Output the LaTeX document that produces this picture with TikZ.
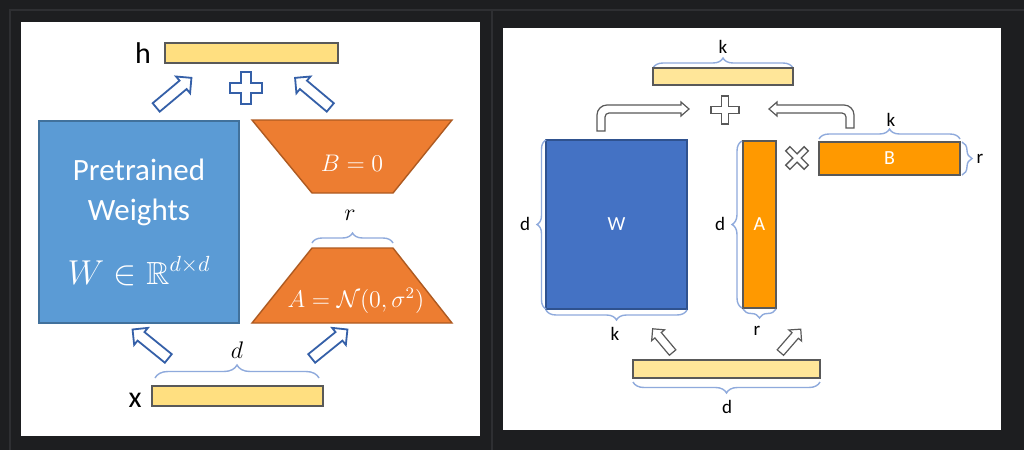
\documentclass[tikz,border=0pt]{standalone}
\usepackage{amsmath,amssymb}
\usepackage{fontspec}
\setmainfont{Carlito}
\usetikzlibrary{arrows.meta, positioning, calc, shapes.arrows, decorations.pathreplacing}
\definecolor{pagedark}{HTML}{1D1E20}
\definecolor{pageframe}{HTML}{2E2F32}
\definecolor{wblue}{HTML}{5B9BD5}
\definecolor{wblueline}{HTML}{41719C}
\definecolor{lorange}{HTML}{ED7D31}
\definecolor{lorangeline}{HTML}{AE5A21}
\definecolor{vecyellow}{HTML}{FFDF80}
\definecolor{vecyellowlt}{HTML}{FFE699}
\definecolor{vecline}{HTML}{595959}
\definecolor{mblue}{HTML}{4472C4}
\definecolor{mblueline}{HTML}{2F528F}
\definecolor{morange}{HTML}{FF9900}
\definecolor{braceblue}{HTML}{8FAADC}
\definecolor{arrowblue}{HTML}{3560A8}
\definecolor{arrowgray}{HTML}{595959}
\newcommand{\blockbox}[7]{%
  \node[#6, inner sep=0pt, minimum width=#4pt, minimum height=#5pt] (#1) at (#2,#3) {#7};}
\newcommand{\hollowarrow}[5]{%
  \node[#5, rotate=#4] (#1) at (#2,#3) {};}
\newcommand{\plusmark}[5]{%
  \draw[shift={(#1,#2)}, #5] (-#4,-#3) -- (#4,-#3) -- (#4,-#4) -- (#3,-#4) -- (#3,#4)
    -- (#4,#4) -- (#4,#3) -- (-#4,#3) -- (-#4,#4) -- (-#3,#4) -- (-#3,-#4) -- (-#4,-#4) -- cycle;}

\begin{document}
\begin{tikzpicture}[x=0.5pt, y=-0.5pt,
    vecbar/.style={draw=vecline, line width=0.7pt},
    bigarrow/.style={single arrow, draw=arrowblue, fill=white, line width=0.9pt,
      inner xsep=0pt, inner ysep=2.3pt, single arrow head extend=2.7pt,
      single arrow tip angle=90, minimum height=23pt, anchor=tail},
    smallarrow/.style={single arrow, draw=arrowgray, fill=white, line width=0.6pt,
      inner xsep=0pt, inner ysep=1.8pt, single arrow head extend=2.1pt,
      single arrow tip angle=90, minimum height=15.5pt, anchor=tail},
    bracemark/.style={decorate, decoration={brace, amplitude=#1}, draw=braceblue, line width=0.7pt},
    biglabel/.style={font=\fontsize{15}{18}\selectfont, anchor=base, inner sep=0pt},
    mathlabel/.style={font=\fontsize{12}{14}\selectfont, anchor=base, inner sep=0pt},
    smalllabel/.style={font=\fontsize{9.5}{11}\selectfont, anchor=base, inner sep=0pt},
    whitetext/.style={text=white, inner sep=0pt}]
  \useasboundingbox[fill=pagedark] (0,0) rectangle (1024,450);
  \draw[pageframe, line width=0.8pt] (10,460) -- (10,10) -- (492,10) -- (492,460);
  \draw[pageframe, line width=0.8pt] (492,10) -- (1030,10);
  \fill[white] (21,22) rectangle (480,436);
  \fill[white] (503,28) rectangle (1001,430);
  % left panel
  \blockbox{hvec}{251.5}{53}{86.5}{10}{vecbar, fill=vecyellow}{}
  \node[biglabel] (hlabel) at (143,63) {h};
  \plusmark{246}{88}{16}{5}{draw=arrowblue, line width=0.9pt}
  \hollowarrow{upleftw}{155.5}{108}{40}{bigarrow}
  \hollowarrow{uprightb}{331}{108}{140}{bigarrow}
  \blockbox{pretrained}{139}{222}{100}{101}{draw=wblueline, fill=wblue, line width=0.7pt}{}
  \node[whitetext, anchor=base, font=\fontsize{15.5}{18}\selectfont] (wline1) at (139,180) {Pretrained};
  \node[whitetext, anchor=base, font=\fontsize{15.5}{18}\selectfont] (wline2) at (139,220) {Weights};
  \node[whitetext, anchor=base, font=\fontsize{16}{18}\selectfont] (wline3) at (139,284) {$W \in \mathbb{R}^{d\times d}$};
  \draw[draw=lorangeline, fill=lorange, line width=0.7pt] (252,120) -- (452,120) -- (393,193) -- (312,193) -- cycle;
  \node[whitetext, anchor=base, font=\fontsize{12}{14}\selectfont] (bzero) at (352,171) {$B = 0$};
  \node[mathlabel] (rlabel) at (350,220) {$r$};
  \draw[bracemark=5pt] (312,243) -- (393,243);
  \draw[draw=lorangeline, fill=lorange, line width=0.7pt] (312,248) -- (393,248) -- (452,323) -- (252,323) -- cycle;
  \node[whitetext, anchor=base, font=\fontsize{12}{14}\selectfont] (anormal) at (356,307) {$A = \mathcal{N}(0,\sigma^2)$};
  \hollowarrow{downleftw}{169}{359}{141}{bigarrow}
  \hollowarrow{downrighta}{311}{359}{39}{bigarrow}
  \node[mathlabel] (dlabel) at (237,358) {$d$};
  \draw[bracemark=6.5pt] (155,378) -- (319,378);
  \node[biglabel] (xlabel) at (135,407) {x};
  \blockbox{xvec}{237.5}{396}{85.5}{10}{vecbar, fill=vecyellow}{}
  % right panel
  \node[smalllabel] (ktop) at (723,53) {k};
  \draw[bracemark=5pt] (653,68) -- (793,68);
  \blockbox{hsum}{723}{76.5}{70}{8.5}{vecbar, fill=vecyellowlt}{}
  \plusmark{725}{110}{14}{3.5}{draw=arrowgray, line width=0.7pt}
  \draw[draw=arrowgray, fill=white, line width=0.6pt] (597,131) -- (597,115)
    arc[start angle=180, end angle=90, radius=5pt] -- (681,105) -- (681,102) -- (689,109)
    -- (681,116) -- (681,113) -- (609,113) arc[start angle=90, end angle=180, radius=2pt]
    -- (605,131) -- cycle;
  \draw[draw=arrowgray, fill=white, line width=0.6pt] (854,128) -- (854,115)
    arc[start angle=0, end angle=90, radius=5pt] -- (777,105) -- (777,102) -- (769,109)
    -- (777,116) -- (777,113) -- (842,113) arc[start angle=90, end angle=0, radius=2pt]
    -- (846,128) -- cycle;
  \blockbox{wmat}{616.5}{224.5}{70.5}{84.5}{draw=mblueline, fill=mblue, line width=0.7pt,
    whitetext, font=\fontsize{10}{12}\selectfont}{W}
  \blockbox{amat}{759.5}{224.5}{16.5}{83.5}{draw=vecline, fill=morange, line width=0.7pt,
    whitetext, font=\fontsize{10}{12}\selectfont}{A}
  \blockbox{bmat}{889.5}{158.5}{70.5}{16.5}{draw=vecline, fill=morange, line width=0.7pt,
    whitetext, font=\fontsize{10}{12}\selectfont}{B}
  \plusmark{797}{158}{13}{3}{draw=arrowgray, line width=0.7pt, rotate=45}
  \node[smalllabel] (kb) at (891,126) {k};
  \draw[bracemark=5pt] (819,139) -- (960,139);
  \node[smalllabel] (rb) at (980,163) {r};
  \draw[bracemark=5pt] (962,142) -- (962,175);
  \node[smalllabel] (dw) at (525,230) {d};
  \draw[bracemark=4.5pt] (546,309) -- (546,140);
  \node[smalllabel] (da) at (720,230) {d};
  \draw[bracemark=5pt] (742,308) -- (742,141);
  \draw[bracemark=5pt] (687,310) -- (546,310);
  \node[smalllabel] (kw) at (615,340) {k};
  \draw[bracemark=4.5pt] (776,309) -- (743,309);
  \node[smalllabel] (ra) at (757,335) {r};
  \hollowarrow{upw}{673}{353}{130}{smallarrow}
  \hollowarrow{upa}{780}{353}{49}{smallarrow}
  \blockbox{xin}{726.5}{369}{93.5}{9}{vecbar, fill=vecyellowlt}{}
  \draw[bracemark=5.5pt] (820,382) -- (633,382);
  \node[smalllabel] (dx) at (727,413) {d};
\end{tikzpicture}
\end{document}
